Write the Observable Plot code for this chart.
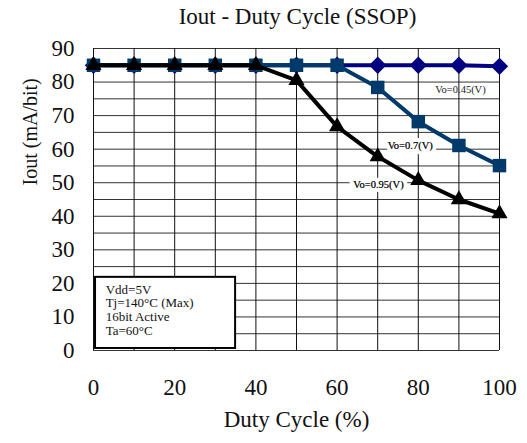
<!DOCTYPE html>
<html>
<head>
<meta charset="utf-8">
<script src="https://cdn.jsdelivr.net/npm/d3@7"></script>
<script src="https://cdn.jsdelivr.net/npm/@observablehq/plot@0.6"></script>
<style>
  html, body { margin: 0; padding: 0; background: #fff; }
  #wrap { width: 527px; font-family: "Liberation Serif", serif; }
  #title { height: 30px; line-height: 33px; font-size: 23px; text-align: center; padding-left: 68px; box-sizing: border-box; color: #111; white-space: nowrap; }
  svg { display: block; }
  svg text { font-family: "Liberation Serif", serif !important; }
</style>
</head>
<body>
<div id="wrap">
  <div id="title">Iout - Duty Cycle (SSOP)</div>
  <div id="chart"></div>
</div>
<script>
const duty = [0, 10, 20, 30, 40, 50, 60, 70, 80, 90, 100];
const vo045 = [85, 85, 85, 85, 85, 85, 85, 85, 85, 85, 84.7];
const vo07  = [85, 85, 85, 85, 85, 85, 85, 78.4, 68.2, 61.1, 55.1];
const vo095 = [85, 85, 85, 85, 85, 80.5, 66.7, 57.8, 50.7, 45, 40.8];
const xTicks = [0, 20, 40, 60, 80, 100];
const yTicks = [0, 10, 20, 30, 40, 50, 60, 70, 80, 90];
const xGrid = d3.range(0, 101, 10);
const yGrid = d3.range(0, 91, 5);
const seriesLabels = [
  {text: "Vo=0.45(V)", x: 90.4, y: 77.8, bg: false},
  {text: "Vo=0.7(V)", x: 78, y: 61, bg: true},
  {text: "Vo=0.95(V)", x: 70.2, y: 49.5, bg: true}
];
const infoLines = ["Vdd=5V", "Tj=140°C (Max)", "16bit Active", "Ta=60°C"];
const infoBox = {x1: 0.5, x2: 35, y1: 0.6, y2: 21.8};

const s045 = duty.map((d, i) => ({x: d, y: vo045[i]}));
const s07 = duty.map((d, i) => ({x: d, y: vo07[i]}));
const s095 = duty.map((d, i) => ({x: d, y: vo095[i]}));

const navy = "#000080";
const teal = "#003a6b";
const serif = "Liberation Serif";

const chart = Plot.plot({
  width: 527,
  height: 413,
  marginTop: 18,
  marginLeft: 93,
  marginRight: 28,
  marginBottom: 93,
  style: {fontFamily: serif, background: "#fff", color: "#111"},
  x: {domain: [0, 100]},
  y: {domain: [0, 90]},
  marks: [
    Plot.ruleY(yGrid, {stroke: "#333", strokeWidth: 1}),
    Plot.ruleX(xGrid, {stroke: "#111", strokeWidth: 1}),
    Plot.axisX(xTicks, {tickSize: 0, tickPadding: 28, fontSize: 23, fontFamily: serif, label: null}),
    Plot.axisY(yTicks, {tickSize: 0, tickPadding: 19, fontSize: 23, fontFamily: serif, label: null}),
    Plot.text(["Duty Cycle (%)"], {frameAnchor: "bottom", dy: 76, fontSize: 23, fontFamily: serif}),
    Plot.text(["Iout (mA/bit)"], {frameAnchor: "left", dx: -63, dy: -14, rotate: -90, fontSize: 20, fontFamily: serif}),
    Plot.line(s045, {x: "x", y: "y", stroke: navy, strokeWidth: 4}),
    Plot.dot(s045, {x: "x", y: "y", symbol: "diamond2", r: 7.8, fill: navy, stroke: null}),
    Plot.line(s07, {x: "x", y: "y", stroke: teal, strokeWidth: 4}),
    Plot.dot(s07, {x: "x", y: "y", symbol: "square", r: 7.6, fill: teal, stroke: null}),
    Plot.line(s095, {x: "x", y: "y", stroke: "#000", strokeWidth: 4}),
    Plot.dot(s095, {x: "x", y: "y", symbol: "triangle", r: 6, fill: "#000", stroke: null}),
    Plot.text(seriesLabels.filter(d => d.bg), {x: "x", y: "y", text: "text", fontSize: 10.5, fontFamily: serif, fill: "#222", stroke: "white", strokeWidth: 8}),
    Plot.text(seriesLabels, {x: "x", y: "y", text: "text", fontSize: 10.5, fontFamily: serif, fill: "#222"}),
    Plot.rect([infoBox], {x1: "x1", x2: "x2", y1: "y1", y2: "y2", fill: "white", stroke: "#000", strokeWidth: 2}),
    Plot.text(infoLines, {x: 3, y: (d, i) => 18.2 - i * 4.1, text: d => d, textAnchor: "start", fontSize: 13, fontFamily: serif, fill: "#111"})
  ]
});
document.getElementById("chart").appendChild(chart);
</script>
</body>
</html>
